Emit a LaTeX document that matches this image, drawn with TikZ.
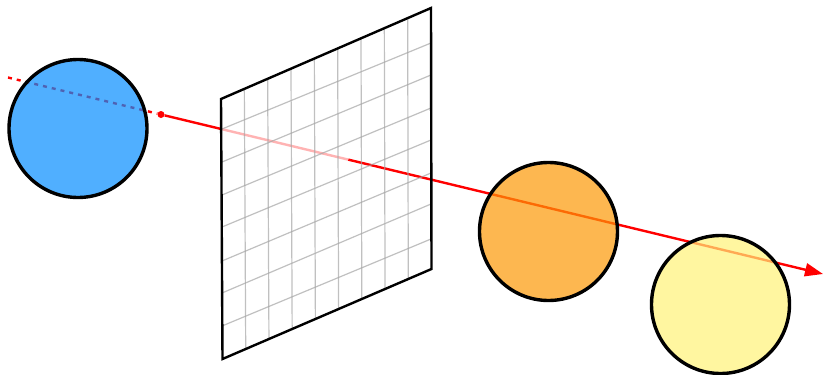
\documentclass[tikz,border=0pt]{standalone}
\usepackage{tikz}
\usetikzlibrary{arrows.meta,calc}
\definecolor{ballblue}{RGB}{5,141,255}
\definecolor{ballorange}{RGB}{252,152,6}
\definecolor{ballyellow}{RGB}{255,242,119}
\begin{document}
\begin{tikzpicture}[x=1pt,y=-1pt,
ball/.style={circle,draw=black,line width=3.4pt,minimum size=138pt,inner sep=0pt,fill opacity=.7},
ray/.style={red,line width=2.4pt},
raydash/.style={ray,dash pattern=on 4pt off 5pt},
raydot/.style={circle,fill=red,inner sep=0pt,minimum size=7pt},
gridline/.style={black!35,opacity=.7,line width=1.2pt},
plane/.style={draw=black,line width=2.4pt}]
\useasboundingbox (0,0) rectangle (823,375);
\coordinate (start) at (8,77.5);
\coordinate (tip) at (823,274);
\coordinate (tl) at (221,99);
\coordinate (tr) at (431,8);
\coordinate (br) at (431.5,269);
\coordinate (bl) at (222.5,359);
\node[raydot](dot) at (161,114.5){};
\coordinate (pierce) at ($(dot)!.283!(tip)$);
\draw[raydash](start)--(dot);
\draw[ray](dot)--(pierce);
\fill[white,opacity=.7](tl)--(tr)--(br)--(bl)--cycle;
\draw[ray,-{Triangle[length=18pt,width=13pt]}](pierce)--(tip);
\foreach \i in {1,...,8}
  \draw[gridline]($(tl)!\i/9!(tr)$)--($(bl)!\i/9!(br)$);
\foreach \l/\r in {129/43,162/75,195/108,227/140,261/173,293/204,326/239}
  \draw[gridline](222,\l)--(431,\r);
\draw[plane](tl)--(tr)--(br)--(bl)--cycle;
\node[ball,fill=ballblue](sphere) at (78,128.5){};
\node[ball,fill=ballorange](orangeball) at (548.5,231.5){};
\node[ball,fill=ballyellow](yellowball) at (720.5,304.5){};
\end{tikzpicture}
\end{document}
